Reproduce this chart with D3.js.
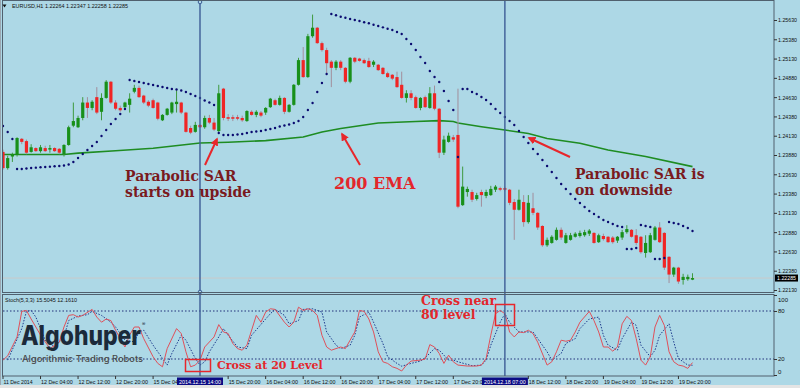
<!DOCTYPE html>
<html>
<head>
<meta charset="utf-8">
<script src="https://cdn.jsdelivr.net/npm/d3@7"></script>
<style>
  body { margin: 0; background: #fff; }
  svg { display: block; }
</style>
</head>
<body>
<div id="chart-area"></div>
<script>
// EURUSD H1 with Parabolic SAR, 200 EMA and Stochastic(5,3,3)

var open = [1.2392,1.2371,1.2386,1.2388,1.2409,1.2406,1.2392,1.2397,1.2393,1.2397,
  1.2395,1.2397,1.2396,1.2389,1.2401,1.2426,1.2424,1.2436,1.2456,1.2449,
  1.2463,1.2444,1.2462,1.2483,1.2456,1.2449,1.2450,1.2453,1.2470,1.2475,
  1.2465,1.2457,1.2459,1.2456,1.2433,1.2440,1.2443,1.2454,1.2456,1.2443,
  1.2423,1.2418,1.2427,1.2424,1.2436,1.2430,1.2419,1.2474,1.2437,1.2437,
  1.2437,1.2436,1.2432,1.2444,1.2440,1.2443,1.2443,1.2450,1.2459,1.2453,
  1.2462,1.2444,1.2453,1.2479,1.2511,1.2489,1.2542,1.2553,1.2533,1.2524,
  1.2509,1.2501,1.2509,1.2501,1.2483,1.2514,1.2513,1.2511,1.2510,1.2505,
  1.2505,1.2501,1.2494,1.2492,1.2489,1.2479,1.2462,1.2468,1.2463,1.2449,
  1.2463,1.2449,1.2468,1.2448,1.2391,1.2405,1.2411,1.2414,1.2323,1.2340,
  1.2340,1.2331,1.2340,1.2335,1.2336,1.2343,1.2345,1.2345,1.2343,1.2327,
  1.2317,1.2327,1.2301,1.2319,1.2313,1.2296,1.2271,1.2274,1.2278,1.2291,
  1.2274,1.2278,1.2282,1.2283,1.2284,1.2286,1.2287,1.2275,1.2283,1.2282,
  1.2281,1.2277,1.2281,1.2288,1.2291,1.2284,1.2282,1.2261,1.2262,1.2278,
  1.2294,1.2287,1.2256,1.2233,1.2242,1.2226,1.2227,1.22264];

var high = [1.2395,1.2387,1.2391,1.2411,1.2410,1.2408,1.2402,1.2398,1.2401,1.2400,
  1.2401,1.2398,1.2397,1.2402,1.2426,1.2456,1.2439,1.2463,1.2463,1.2459,
  1.2476,1.2468,1.2485,1.2484,1.2459,1.2452,1.2457,1.2468,1.2479,1.2478,
  1.2466,1.2459,1.2461,1.2457,1.2441,1.2449,1.2457,1.2472,1.2457,1.2444,
  1.2426,1.2431,1.2428,1.2439,1.2440,1.2436,1.2479,1.2475,1.2441,1.2440,
  1.2440,1.2439,1.2446,1.2446,1.2446,1.2445,1.2450,1.2462,1.2461,1.2465,
  1.2463,1.2454,1.2480,1.2514,1.2528,1.2545,1.2570,1.2554,1.2535,1.2527,
  1.2511,1.2511,1.2511,1.2502,1.2515,1.2515,1.2514,1.2513,1.2514,1.2511,
  1.2506,1.2502,1.2496,1.2493,1.2496,1.2496,1.2472,1.2472,1.2465,1.2463,
  1.2465,1.2476,1.2478,1.2449,1.2413,1.2417,1.2414,1.2474,1.2373,1.2347,
  1.2343,1.2339,1.2343,1.2343,1.2348,1.2349,1.2347,1.2347,1.2344,1.2331,
  1.2343,1.2336,1.2336,1.2339,1.2314,1.2297,1.2281,1.2284,1.2294,1.2294,
  1.2287,1.2287,1.2288,1.2290,1.2291,1.2292,1.2288,1.2286,1.2286,1.2283,
  1.2283,1.2283,1.2291,1.2297,1.2292,1.2292,1.2283,1.2284,1.2287,1.2296,
  1.2301,1.2288,1.2257,1.2243,1.2243,1.2234,1.2233,1.22347];

var low = [1.2369,1.2369,1.2379,1.2386,1.2402,1.2389,1.2391,1.2392,1.2391,1.2392,
  1.2391,1.2392,1.2389,1.2386,1.2400,1.2424,1.2423,1.2433,1.2436,1.2446,
  1.2441,1.2433,1.2461,1.2454,1.2446,1.2444,1.2448,1.2443,1.2468,1.2462,
  1.2454,1.2450,1.2448,1.2433,1.2432,1.2439,1.2441,1.2443,1.2441,1.2417,
  1.2415,1.2417,1.2423,1.2422,1.2428,1.2419,1.2418,1.2433,1.2432,1.2432,
  1.2433,1.2431,1.2431,1.2439,1.2437,1.2437,1.2440,1.2449,1.2452,1.2452,
  1.2441,1.2443,1.2452,1.2478,1.2488,1.2488,1.2540,1.2532,1.2522,1.2494,
  1.2476,1.2498,1.2498,1.2481,1.2481,1.2507,1.2509,1.2506,1.2501,1.2502,
  1.2497,1.2492,1.2488,1.2485,1.2475,1.2461,1.2456,1.2459,1.2448,1.2446,
  1.2449,1.2448,1.2446,1.2384,1.2388,1.2404,1.2405,1.2319,1.2322,1.2334,
  1.2327,1.2329,1.2321,1.2332,1.2335,1.2340,1.2341,1.2341,1.2323,1.2278,
  1.2316,1.2295,1.2299,1.2310,1.2291,1.2269,1.2269,1.2273,1.2277,1.2278,
  1.2273,1.2277,1.2281,1.2281,1.2282,1.2283,1.2273,1.2274,1.2277,1.2274,
  1.2273,1.2274,1.2278,1.2286,1.2281,1.2271,1.2260,1.2255,1.2261,1.2277,
  1.2274,1.2239,1.2222,1.2230,1.2221,1.2220,1.2225,1.22258];

var close = [1.2371,1.2384,1.2389,1.2410,1.2405,1.2391,1.2398,1.2393,1.2398,1.2393,
  1.2397,1.2393,1.2391,1.2401,1.2424,1.2432,1.2436,1.2456,1.2449,1.2457,
  1.2443,1.2462,1.2483,1.2456,1.2448,1.2446,1.2456,1.2461,1.2475,1.2463,
  1.2456,1.2452,1.2449,1.2435,1.2440,1.2448,1.2456,1.2457,1.2443,1.2418,
  1.2417,1.2427,1.2424,1.2436,1.2430,1.2421,1.2468,1.2436,1.2435,1.2435,
  1.2435,1.2433,1.2445,1.2440,1.2444,1.2439,1.2449,1.2461,1.2453,1.2462,
  1.2444,1.2453,1.2479,1.2511,1.2489,1.2542,1.2553,1.2533,1.2524,1.2507,
  1.2501,1.2509,1.2501,1.2483,1.2514,1.2509,1.2510,1.2507,1.2502,1.2509,
  1.2498,1.2493,1.2489,1.2487,1.2476,1.2462,1.2468,1.2462,1.2449,1.2462,
  1.2450,1.2468,1.2448,1.2391,1.2408,1.2413,1.2408,1.2321,1.2347,1.2344,
  1.2330,1.2336,1.2336,1.2340,1.2344,1.2347,1.2343,1.2343,1.2326,1.2317,
  1.2330,1.2301,1.2326,1.2313,1.2294,1.2271,1.2278,1.2282,1.2291,1.2281,
  1.2284,1.2284,1.2286,1.2287,1.2288,1.2290,1.2274,1.2284,1.2279,1.2275,
  1.2275,1.2282,1.2288,1.2292,1.2282,1.2274,1.2262,1.2274,1.2284,1.2294,
  1.2275,1.2242,1.2233,1.2242,1.2224,1.2230,1.2230,1.22285];

var sar = [1.24256,1.24178,1.24088,1.23699,1.23699,1.23705,1.23712,1.23716,1.23721,1.23725,
  1.23729,1.23734,1.23738,1.23744,1.23757,1.23790,1.23841,1.23893,1.23945,1.23997,
  1.24049,1.24126,1.24204,1.24282,1.24347,1.24412,1.24476,1.24852,1.24839,1.24826,
  1.24813,1.24800,1.24787,1.24774,1.24762,1.24749,1.24736,1.24729,1.24716,1.24697,
  1.24671,1.24645,1.24619,1.24587,1.24561,1.24528,1.24165,1.24139,1.24139,1.24139,
  1.24146,1.24152,1.24165,1.24178,1.24185,1.24191,1.24204,1.24217,1.24230,1.24250,
  1.24263,1.24276,1.24295,1.24321,1.24373,1.24463,1.24554,1.24697,1.24813,1.24930,
  1.25708,1.25691,1.25673,1.25660,1.25643,1.25630,1.25617,1.25600,1.25587,1.25569,
  1.25552,1.25535,1.25517,1.25500,1.25474,1.25448,1.25384,1.25319,1.25241,1.25150,
  1.25073,1.24969,1.24891,1.24826,1.24710,1.24580,1.24463,1.23854,1.24736,1.24736,
  1.24697,1.24671,1.24632,1.24593,1.24541,1.24476,1.24425,1.24373,1.24321,1.24269,
  1.24191,1.24114,1.24036,1.23958,1.23893,1.23815,1.23738,1.23660,1.23582,1.23504,
  1.23440,1.23375,1.23310,1.23258,1.23206,1.23154,1.23116,1.23077,1.23038,1.23012,
  1.22986,1.22960,1.22947,1.22662,1.22662,1.22675,1.22973,1.22960,1.22947,1.22532,
  1.22532,1.22545,1.23012,1.22999,1.22986,1.22960,1.22934,1.22895];

// 200 EMA read at these bars
var emaBars = [0,13,16,24,32,42,48,56,64,68,72,80,88,93,96,97,102,107,112,116,123,129,137,147];
var emaVals = [1.23887,1.23887,1.23904,1.23935,1.23967,1.24036,1.24045,1.24066,1.24114,1.24178,
  1.24224,1.24295,1.24314,1.24325,1.24314,1.24295,1.24247,1.24204,1.24159,1.24094,
  1.24032,1.23945,1.23861,1.23729];

// stochastic %K (main) and %D (signal), [bar, value]
var stochK = [[0,18.6],[1,24],[3,47.6],[4,79.5],[5,80.7],[6,70],[8,50],[10,33],[12,41],[13,60],
  [14,74.5],[15,75.4],[16,72.4],[17,74.5],[19,82],[20,72.4],[21,66],[22,70],[23,68],[24,56],
  [26,35],[27,50],[28,60],[29,60],[30,45.5],[32,22.8],[33,14.5],[34,10.3],[35,33],[37,58],
  [38,51.8],[39,29],[40,10.3],[41,12.4],[42,18.6],[43,35],[45,47.6],[46,63],[47,53.8],[48,51.8],
  [49,39.4],[50,33],[51,31],[52,37.3],[54,74.5],[55,66],[56,78.6],[57,82.8],[58,82],[60,66],
  [61,60],[62,66],[63,84.8],[64,80.7],[65,82.8],[66,80.7],[67,74.5],[68,49.7],[69,35],[70,31],
  [72,35],[73,33],[74,43.5],[75,53.8],[76,80.7],[77,79.5],[78,70],[79,53.8],[80,29],[81,16.5],
  [82,14.5],[83,10.3],[84,8.3],[85,5],[86,12.4],[87,17.4],[89,18.6],[90,19.9],[91,38],[92,35],
  [93,27],[94,14.5],[95,24.8],[96,16.5],[97,12.4],[99,11.2],[101,11.2],[102,12.4],[103,20.7],[104,49.7],
  [105,76.6],[106,80.7],[107,76.6],[108,53.8],[109,47.6],[110,53.8],[111,53],[112,56],[113,51.8],[114,41],
  [116,12.4],[117,16.5],[118,29],[119,43.5],[120,42.2],[121,43.5],[122,53.8],[123,66],[125,79.5],[126,68],
  [127,53.8],[128,35],[129,35],[130,29.8],[131,35],[132,64],[133,73.3],[134,68],[135,45.5],[136,18.6],
  [137,12.4],[138,22.8],[139,60],[140,74.5],[141,62],[142,29],[143,16.5],[144,12.4],[145,11.2],[146,8.3],
  [147,15.5]];

var stochD = [[1,18.6],[4,58],[5,79.5],[6,80.7],[7,72.4],[9,43.5],[11,35],[13,47.6],[14,68],[16,73.7],
  [18,75.4],[19,79.5],[21,74.5],[23,66],[24,60],[26,43.5],[28,41.4],[29,53.8],[30,56],[32,37.3],
  [34,20.7],[35,12.4],[36,27],[38,49.7],[39,43.5],[41,20.7],[42,12.4],[43,16.5],[44,29],[46,47.6],
  [47,58],[48,49.7],[50,35],[52,33],[53,49.7],[56,70],[57,76.6],[58,82],[60,74.5],[61,64],
  [63,68],[64,82],[66,82.8],[68,78.6],[69,53.8],[71,37.3],[72,33],[74,37.3],[75,49.7],[76,72.4],
  [78,78.6],[79,66],[81,39.4],[82,22.8],[84,14.5],[85,11],[87,14.5],[89,17.4],[90,21.5],[92,33],
  [93,31],[95,18.6],[96,18.6],[97,16.5],[100,11.6],[102,12.4],[103,18.6],[104,37.3],[106,66],[107,76.6],
  [108,66],[110,53.8],[111,53.8],[113,53.8],[114,45.5],[116,29],[117,18.6],[119,27],[120,39.4],[122,45.5],
  [123,58],[125,70],[127,72.4],[128,49.7],[129,37.3],[131,31],[132,45.5],[134,66],[135,62],[136,37.3],
  [138,22.8],[139,31],[140,49.7],[142,64],[143,41.4],[144,20.7],[146,12.4],[147,12.16]];

var priceTicks = [1.25630,1.25380,1.25130,1.24880,1.24630,1.24380,1.24130,1.23880,
  1.23630,1.23380,1.23130,1.22880,1.22630,1.22380,1.22130];
var stochTicks = [100,80,20,0];
var stochLevels = [80,20];

// time labels visible on the axis (the ones under the two date tags are hidden)
var timeBars = [0,8,16,24,32,48,56,64,72,80,88,96,112,120,128,136,144];
var timeLabels = ["11 Dec 2014","12 Dec 04:00","12 Dec 12:00","12 Dec 20:00","15 Dec 04:00",
  "15 Dec 20:00","16 Dec 04:00","16 Dec 12:00","16 Dec 20:00","17 Dec 04:00",
  "17 Dec 12:00","17 Dec 20:00","18 Dec 12:00","18 Dec 20:00","19 Dec 04:00",
  "19 Dec 12:00","19 Dec 20:00"];
var markerBars = [42,107];
var markerLabels = ["2014.12.15 14:00","2014.12.18 07:00"];

var lastPrice = 1.22285;
var header = "EURUSD,H1  1.22264 1.22347 1.22258 1.22285";
var stochHeader = "Stoch(5,3,3) 15.5045 12.1610";

var width = 800, height = 388;
var plotLeft = 3, plotRight = 774;
var mainTop = 1, mainBottom = 292;
var stochTop = 295, stochBottom = 376;

var bg = "#add8e6";
var upCol = "#18901a", downCol = "#f02525";
var axisFont = "'Liberation Sans', Arial, sans-serif";
var serif = "'DejaVu Serif', serif";

var x = d3.scaleLinear().domain([0,147]).range([3,692.5]);
var y = d3.scaleLinear().domain([1.22130,1.25630]).range([290,20]);
var ys = d3.scaleLinear().domain([0,100]).range([375,295]);

var svg = d3.select("#chart-area").append("svg")
    .attr("width", width)
    .attr("height", height);

svg.append("rect").attr("width", width).attr("height", height).attr("fill", bg);
svg.append("rect").attr("x",0).attr("y",385).attr("width",width).attr("height",3).attr("fill","#e4e4e4");

var defs = svg.append("defs");
defs.append("clipPath").attr("id","clipMain").append("rect")
    .attr("x",plotLeft).attr("y",mainTop).attr("width",plotRight-plotLeft).attr("height",mainBottom-mainTop);
defs.append("clipPath").attr("id","clipStoch").append("rect")
    .attr("x",plotLeft).attr("y",stochTop).attr("width",plotRight-plotLeft).attr("height",stochBottom-stochTop);
defs.append("clipPath").attr("id","clipAxis").append("rect")
    .attr("x",0).attr("y",376).attr("width",width).attr("height",10);
defs.append("marker").attr("id","arrow")
    .attr("viewBox","0 0 10 10").attr("refX",8).attr("refY",5)
    .attr("markerWidth",4).attr("markerHeight",4).attr("orient","auto")
  .append("path").attr("d","M0,0L10,5L0,10z").attr("fill","#e8262b");

var main = svg.append("g").attr("clip-path","url(#clipMain)");
var stoch = svg.append("g").attr("clip-path","url(#clipStoch)");

// current price line
main.append("line")
    .attr("x1",plotLeft).attr("x2",plotRight)
    .attr("y1",y(lastPrice)).attr("y2",y(lastPrice))
    .attr("stroke","#c9c9c9").attr("stroke-width",1);

// stochastic levels
stoch.selectAll(".level").data(stochLevels).enter()
  .append("line")
    .attr("class","level")
    .attr("x1",plotLeft).attr("x2",plotRight)
    .attr("y1",function(d){ return ys(d); }).attr("y2",function(d){ return ys(d); })
    .attr("stroke","#22307a").attr("stroke-width",1)
    .attr("stroke-dasharray","1.5,2");

// vertical marker lines
svg.selectAll(".vline").data(markerBars).enter()
  .append("line")
    .attr("class","vline")
    .attr("x1",function(d){ return x(d); }).attr("x2",function(d){ return x(d); })
    .attr("y1",0).attr("y2",stochBottom)
    .attr("stroke","#3d5d96").attr("stroke-width",1.4);
[2, 292].forEach(function(cy){
  svg.append("circle").attr("cx",x(markerBars[0])).attr("cy",cy).attr("r",1.8)
      .attr("fill",bg).attr("stroke","#3d5d96").attr("stroke-width",1);
});

// 200 EMA
var emaLine = d3.line()
    .x(function(d,i){ return x(emaBars[i]); })
    .y(function(d){ return y(d); });
main.append("path")
    .attr("d", emaLine(emaVals))
    .attr("fill","none").attr("stroke","#1e8c22").attr("stroke-width",1.6);

// candles
var bars = d3.range(open.length);
main.selectAll(".wick").data(bars).enter()
  .append("line")
    .attr("class","wick")
    .attr("x1",function(i){ return x(i); }).attr("x2",function(i){ return x(i); })
    .attr("y1",function(i){ return y(high[i]); }).attr("y2",function(i){ return y(low[i]); })
    .attr("stroke",function(i){ return close[i] >= open[i] ? "#3f9a3f" : "#a28e9c"; })
    .attr("stroke-width",1);

main.selectAll(".body").data(bars).enter()
  .append("rect")
    .attr("class","body")
    .attr("x",function(i){ return x(i)-1.6; })
    .attr("width",3.2)
    .attr("y",function(i){ return y(Math.max(open[i],close[i])); })
    .attr("height",function(i){ return Math.max(1.2, Math.abs(y(open[i])-y(close[i]))); })
    .attr("fill",function(i){ return close[i] >= open[i] ? upCol : downCol; });

// parabolic SAR
main.selectAll(".sar").data(sar).enter()
  .append("circle")
    .attr("class","sar")
    .attr("cx",function(d,i){ return x(i); })
    .attr("cy",function(d){ return y(d); })
    .attr("r",1.2)
    .attr("fill","#0b0b70");

// stochastic lines
var stLine = d3.line()
    .x(function(d){ return x(d[0]); })
    .y(function(d){ return ys(d[1]); });
stoch.append("path").attr("d",stLine(stochD))
    .attr("fill","none").attr("stroke","#1d3a8c").attr("stroke-width",1)
    .attr("stroke-dasharray","1.5,1.5");
stoch.append("path").attr("d",stLine(stochK))
    .attr("fill","none").attr("stroke","#e0505a").attr("stroke-width",1);

// panel frames
svg.append("rect").attr("x",2.5).attr("y",0.5).attr("width",plotRight-2.5).attr("height",mainBottom)
    .attr("fill","none").attr("stroke","#50606e").attr("stroke-width",1);
svg.append("rect").attr("x",2.5).attr("y",stochTop-0.5).attr("width",plotRight-2.5).attr("height",stochBottom-stochTop+0.5)
    .attr("fill","none").attr("stroke","#50606e").attr("stroke-width",1);
svg.append("line").attr("x1",0.5).attr("x2",0.5).attr("y1",0).attr("y2",385)
    .attr("stroke","#9aa6b0");

// right price axis
var yAxisCall = d3.axisRight(y).tickValues(priceTicks).tickSize(3).tickPadding(1)
    .tickFormat(d3.format(".5f"));
var yAxisGroup = svg.append("g").attr("transform","translate("+plotRight+",0)").call(yAxisCall);
yAxisGroup.select(".domain").remove();
yAxisGroup.selectAll("line").attr("stroke","#333");
yAxisGroup.selectAll("text")
    .attr("font-family",axisFont).attr("font-size","6px").attr("fill","#111")
    .attr("textLength",19).attr("lengthAdjust","spacingAndGlyphs");

// current price tag
svg.append("rect").attr("x",plotRight+1).attr("y",y(lastPrice)-3.5).attr("width",23).attr("height",7).attr("fill","#000");
svg.append("text").attr("x",plotRight+3).attr("y",y(lastPrice)+2.2)
    .attr("font-family",axisFont).attr("font-size","6px").attr("fill","#fff")
    .attr("textLength",19).attr("lengthAdjust","spacingAndGlyphs")
    .text(d3.format(".5f")(lastPrice));

// stochastic axis
var sAxisCall = d3.axisRight(ys).tickValues(stochTicks).tickSize(3).tickPadding(1)
    .tickFormat(d3.format("d"));
var sAxisGroup = svg.append("g").attr("transform","translate("+plotRight+",0)").call(sAxisCall);
sAxisGroup.select(".domain").remove();
sAxisGroup.selectAll("line").attr("stroke","#333");
sAxisGroup.selectAll("text")
    .attr("font-family",axisFont).attr("font-size","6px").attr("fill","#111")
    .attr("dy",function(d){ return d == 100 ? "1.1em" : (d == 0 ? "-0.2em" : "0.32em"); });

// time axis
var tAxis = svg.append("g").attr("clip-path","url(#clipAxis)");
tAxis.selectAll(".tick").data(timeBars).enter()
  .append("line")
    .attr("x1",function(d){ return x(d); }).attr("x2",function(d){ return x(d); })
    .attr("y1",stochBottom).attr("y2",stochBottom+3)
    .attr("stroke","#333");
tAxis.selectAll(".tlabel").data(timeLabels).enter()
  .append("text")
    .attr("class","tlabel")
    .attr("x",function(d,i){ return x(timeBars[i]) + 0.5; })
    .attr("y",383.5)
    .attr("font-family",axisFont).attr("font-size","6px").attr("fill","#111")
    .attr("textLength",function(d){ return d.length*2.65; })
    .attr("lengthAdjust","spacingAndGlyphs")
    .text(function(d){ return d; });
tAxis.selectAll(".mbox").data(markerBars).enter()
  .append("rect")
    .attr("x",function(d){ return x(d)-23; }).attr("y",377.5)
    .attr("width",46).attr("height",7.5).attr("fill","#0b0b84");
tAxis.selectAll(".mlabel").data(markerLabels).enter()
  .append("text")
    .attr("x",function(d,i){ return x(markerBars[i]); }).attr("y",383.5)
    .attr("text-anchor","middle")
    .attr("font-family",axisFont).attr("font-size","6px").attr("fill","#fff")
    .attr("textLength",42).attr("lengthAdjust","spacingAndGlyphs")
    .text(function(d){ return d; });

// headers
svg.append("path").attr("d","M2.5,4.5L6.5,4.5L4.5,7.5z").attr("fill","#111");
svg.append("text").attr("x",12).attr("y",8)
    .attr("font-family",axisFont).attr("font-size","6px").attr("fill","#111")
    .attr("textLength",116).attr("lengthAdjust","spacingAndGlyphs")
    .text(header);
svg.append("text").attr("x",5).attr("y",302)
    .attr("font-family",axisFont).attr("font-size","6px").attr("fill","#111")
    .attr("textLength",72).attr("lengthAdjust","spacingAndGlyphs")
    .text(stochHeader);

// watermark
var logo = svg.append("text").attr("x",21).attr("y",345)
    .attr("font-family","Inter, 'Open Sans', sans-serif").attr("font-weight",800)
    .attr("fill","#1b2a3a");
logo.append("tspan").attr("font-size","27px")
    .attr("textLength",120).attr("lengthAdjust","spacingAndGlyphs")
    .text("Algohuper");
logo.append("tspan").attr("font-size","5px").attr("font-weight",400)
    .attr("dx",1).attr("dy",-19)
    .text("®");
svg.append("text").attr("x",22).attr("y",362)
    .attr("font-family","Inter, 'Open Sans', sans-serif").attr("font-weight",500)
    .attr("font-size","9px").attr("fill","#4a4a4a")
    .attr("textLength",121).attr("lengthAdjust","spacingAndGlyphs")
    .text("Algorithmic Trading Robots");

// annotations
function note(tx, ty, str, size, col){
  svg.append("text").attr("x",tx).attr("y",ty)
      .attr("font-family",serif).attr("font-weight","bold")
      .attr("font-size",size+"px").attr("fill",col)
      .text(str);
}
note(125,181,"Parabolic SAR",14,"#7a1a1e");
note(125,197,"starts on upside",14,"#7a1a1e");
note(334,189,"200 EMA",16,"#e3262b");
note(575,179,"Parabolic SAR is",14,"#7a1a1e");
note(575,195,"on downside",14,"#7a1a1e");
note(217,369,"Cross at 20 Level",11,"#e3262b");
note(421,305,"Cross near",12.5,"#e3262b");
note(421,319,"80 level",12.5,"#e3262b");

var arrows = [[205,165,217,139],[360,165,342,134],[570,157,529,138]];
svg.selectAll(".arrow").data(arrows).enter()
  .append("line")
    .attr("x1",function(d){ return d[0]; }).attr("y1",function(d){ return d[1]; })
    .attr("x2",function(d){ return d[2]; }).attr("y2",function(d){ return d[3]; })
    .attr("stroke","#e8262b").attr("stroke-width",2)
    .attr("marker-end","url(#arrow)");

svg.append("rect").attr("x",185.5).attr("y",359.5).attr("width",25).attr("height",12)
    .attr("fill","none").attr("stroke","#e8262b").attr("stroke-width",1.5);
svg.append("rect").attr("x",495.5).attr("y",304.5).attr("width",19).attr("height",21)
    .attr("fill","none").attr("stroke","#e8262b").attr("stroke-width",1.5);
</script>
</body>
</html>
